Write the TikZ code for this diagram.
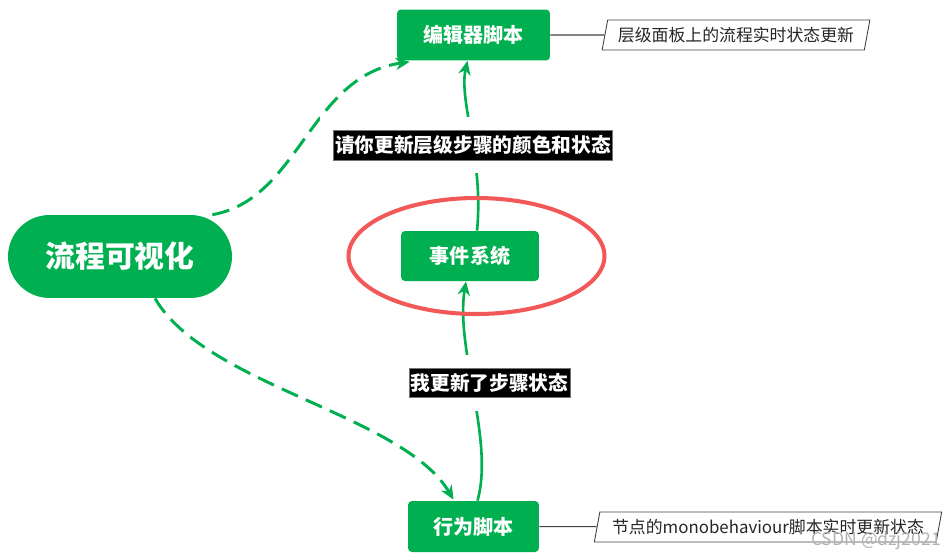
\documentclass[tikz,border=0pt]{standalone}
\usepackage{fontspec}
\setmainfont{Noto Sans CJK SC}
\usetikzlibrary{arrows.meta,shapes.geometric,backgrounds}
\definecolor{mindgreen}{HTML}{00B050}
\definecolor{ringred}{HTML}{F25858}
\definecolor{notegray}{HTML}{404040}
\begin{document}
\begin{tikzpicture}[x=0.02cm,y=-0.02cm,
    topic/.style={fill=mindgreen,text=white,font=\bfseries\fontsize{11.4}{13}\selectfont,
      rounded corners=0.08cm,minimum height=1.02cm,inner sep=0pt},
    msg/.style={preaction={draw=white,line width=15pt},fill=black,draw=black!55,line width=0.4pt,
      text=white,font=\bfseries\fontsize{11.2}{13}\selectfont,inner xsep=1pt,inner ysep=3pt},
    note/.style={draw=notegray,line width=0.5pt,trapezium,trapezium left angle=79,
      trapezium right angle=101,trapezium stretches=true,minimum height=0.6cm,
      text=black!85,font=\fontsize{9.6}{12}\selectfont},
    flow/.style={draw=mindgreen,line width=1.5pt,-{Stealth[length=8pt,width=7pt]}},
    link/.style={flow,line width=1.7pt,dash pattern=on 10pt off 5pt}]
  \useasboundingbox (0,0) rectangle (945,558);
  \node[fill=mindgreen,text=white,font=\bfseries\fontsize{17}{20}\selectfont,minimum width=4.48cm,
    minimum height=1.66cm,rounded corners=0.83cm] (root) at (120,256.5) {流程可视化};
  \node[topic,minimum width=3.06cm] (edscript) at (473.5,35) {编辑器脚本};
  \node[topic,minimum width=2.76cm,minimum height=1cm] (evtsys) at (470,256) {事件系统};
  \node[topic,minimum width=2.62cm] (behscript) at (473.5,526.5) {行为脚本};
  \node[msg] (askmsg) at (473,145) {请你更新层级步骤的颜色和状态};
  \node[msg] (donemsg) at (489.5,383) {我更新了步骤状态};
  \node[note,minimum width=5.36cm] (ednote) at (736,35) {层级面板上的流程实时状态更新};
  \node[note,minimum width=6.96cm] (behnote) at (768,527) {节点的monobehaviour脚本实时更新状态};
  \node[text=black!30,font=\fontsize{10}{12}\selectfont] (mark) at (876,541) {CSDN @dzj2021};
  \begin{scope}[on background layer]
    \draw[link] ([shift={(-20,0)}]root.north east) .. controls +(87,-15) and +(-100,14) .. ([shift={(13,1)}]edscript.south west);
    \draw[link] ([shift={(35,0)}]root.south) .. controls +(50,87) and +(-50,-85) .. ([shift={(-20,-1)}]behscript.north);
    \draw[flow] ([shift={(4,0)}]behscript.north) .. controls +(17,-61) and +(-11,68) .. ([shift={(-4,0)}]evtsys.south);
    \draw[flow] ([shift={(7,0)}]evtsys.north) .. controls +(7,-71) and +(-9,40) .. ([shift={(-6,0)}]edscript.south);
    \draw[notegray,line width=0.6pt] (edscript) -- (ednote);
    \draw[notegray,line width=0.6pt] (behscript) -- (behnote);
  \end{scope}
  \draw[ringred,line width=2.3pt] (476.5,256) ellipse [x radius=2.56cm,y radius=1.16cm];
\end{tikzpicture}
\end{document}
